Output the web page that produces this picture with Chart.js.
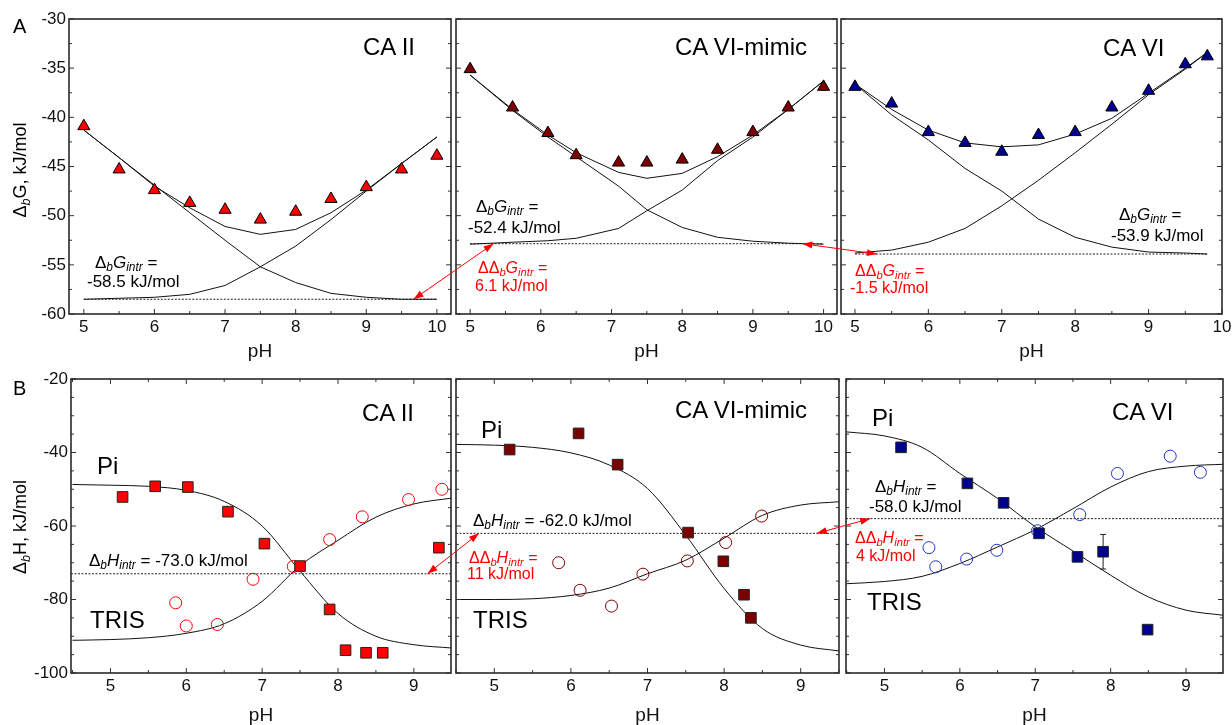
<!DOCTYPE html>
<html>
<head>
<meta charset="utf-8">
<script src="https://cdn.jsdelivr.net/npm/chart.js@4.4.0/dist/chart.umd.min.js"></script>
<style>
    body { margin: 0; background: #fff; }
    #page { position: relative; width: 1232px; height: 725px; overflow: hidden; background: #fff; }
    canvas { position: absolute; }
    .t { position: absolute; font-family: "Liberation Sans", Arial, sans-serif; line-height: 1; white-space: nowrap; color: #000; z-index: 5; }
    .t sub { font-size: 0.7em; font-style: italic; vertical-align: -0.28em; line-height: 0; }
    .red { color: #f00; }
    .rot { transform: translate(-50%, -50%) rotate(-90deg); }
</style>
</head>
<body>
<div id="page">
    <canvas id="a1"></canvas>
    <canvas id="a2"></canvas>
    <canvas id="a3"></canvas>
    <canvas id="b1"></canvas>
    <canvas id="b2"></canvas>
    <canvas id="b3"></canvas>
    <canvas id="ov" width="1232" height="725" style="left:0;top:0;z-index:4"></canvas>

    <div class="t" style="left:13px;top:16px;font-size:20px">A</div>
    <div class="t" style="left:13px;top:378px;font-size:20px">B</div>
    <div class="t rot" style="left:20px;top:170px;font-size:18px">&Delta;<sub>b</sub>G, kJ/mol</div>
    <div class="t rot" style="left:20px;top:527px;font-size:18px">&Delta;<sub>b</sub>H, kJ/mol</div>

    <!-- panel A1 -->
    <div class="t" style="left:363px;top:35px;font-size:24px">CA II</div>
    <div class="t" style="left:95px;top:254px;font-size:17px">&Delta;<sub>b</sub><i>G</i><sub>intr</sub> =</div>
    <div class="t" style="left:87px;top:273px;font-size:17px">-58.5 kJ/mol</div>
    <!-- panel A2 -->
    <div class="t" style="left:675px;top:35px;font-size:24px">CA VI-mimic</div>
    <div class="t" style="left:476px;top:198px;font-size:17px">&Delta;<sub>b</sub><i>G</i><sub>intr</sub> =</div>
    <div class="t" style="left:468px;top:219px;font-size:17px">-52.4 kJ/mol</div>
    <div class="t red" style="left:478px;top:260px;font-size:16px">&Delta;&Delta;<sub>b</sub><i>G</i><sub>intr</sub> =</div>
    <div class="t red" style="left:475px;top:278px;font-size:16px">6.1 kJ/mol</div>
    <!-- panel A3 -->
    <div class="t" style="left:1103px;top:36px;font-size:24px">CA VI</div>
    <div class="t" style="left:1119px;top:206px;font-size:17px">&Delta;<sub>b</sub><i>G</i><sub>intr</sub> =</div>
    <div class="t" style="left:1111px;top:227px;font-size:17px">-53.9 kJ/mol</div>
    <div class="t red" style="left:855px;top:263px;font-size:16px">&Delta;&Delta;<sub>b</sub><i>G</i><sub>intr</sub> =</div>
    <div class="t red" style="left:850px;top:280px;font-size:16px">-1.5 kJ/mol</div>
    <!-- panel B1 -->
    <div class="t" style="left:362px;top:401px;font-size:24px">CA II</div>
    <div class="t" style="left:97px;top:454px;font-size:24px">Pi</div>
    <div class="t" style="left:90px;top:608px;font-size:24px">TRIS</div>
    <div class="t" style="left:89px;top:552px;font-size:17px">&Delta;<sub>b</sub><i>H</i><sub>intr</sub> = -73.0 kJ/mol</div>
    <!-- panel B2 -->
    <div class="t" style="left:675px;top:398px;font-size:24px">CA VI-mimic</div>
    <div class="t" style="left:481px;top:418px;font-size:24px">Pi</div>
    <div class="t" style="left:473px;top:608px;font-size:24px">TRIS</div>
    <div class="t" style="left:473px;top:512px;font-size:17px">&Delta;<sub>b</sub><i>H</i><sub>intr</sub> = -62.0 kJ/mol</div>
    <div class="t red" style="left:469px;top:550px;font-size:16px">&Delta;&Delta;<sub>b</sub><i>H</i><sub>intr</sub> =</div>
    <div class="t red" style="left:467px;top:566px;font-size:16px">11 kJ/mol</div>
    <!-- panel B3 -->
    <div class="t" style="left:1112px;top:400px;font-size:24px">CA VI</div>
    <div class="t" style="left:872px;top:406px;font-size:24px">Pi</div>
    <div class="t" style="left:867px;top:590px;font-size:24px">TRIS</div>
    <div class="t" style="left:875px;top:478px;font-size:17px">&Delta;<sub>b</sub><i>H</i><sub>intr</sub> =</div>
    <div class="t" style="left:869px;top:498px;font-size:17px">-58.0 kJ/mol</div>
    <div class="t red" style="left:855px;top:530px;font-size:16px">&Delta;&Delta;<sub>b</sub><i>H</i><sub>intr</sub> =</div>
    <div class="t red" style="left:856px;top:548px;font-size:16px">4 kJ/mol</div>
</div>

<script>
// ---- tick labels ----
const xTicksTop = [5, 6, 7, 8, 9, 10];
const xTicksBottom = [5, 6, 7, 8, 9];
const yTicksTop = [-60, -55, -50, -45, -40, -35, -30];
const yTicksBottom = [-100, -80, -60, -40, -20];

// ---- A: binding free energy, CA II ----
const caIIpH = [5, 5.5, 6, 6.5, 7, 7.5, 8, 8.5, 9, 9.5, 10];
const caIIdG = [-40.9, -45.3, -47.4, -48.7, -49.4, -50.4, -49.6, -48.3, -47.1, -45.3, -43.9];
const caIIfit = [-41.3, -44.1, -47.0, -49.2, -51.1, -51.9, -51.4, -49.7, -47.4, -44.7, -42.0];
const caIIdown = [-41.3, -44.1, -46.9, -49.7, -52.5, -55.2, -56.8, -57.9, -58.3, -58.5, -58.5];
const caIIup = [-58.5, -58.4, -58.3, -58.0, -57.1, -55.2, -53.1, -50.4, -47.5, -44.7, -42.0];
const caIIintr = -58.5;

// ---- A: CA VI-mimic ----
const mimicpH = [5, 5.6, 6.1, 6.5, 7.1, 7.5, 8.0, 8.5, 9.0, 9.5, 10];
const mimicdG = [-35.1, -39.0, -41.6, -43.85, -44.6, -44.6, -44.3, -43.3, -41.5, -39.0, -36.9];
const mimicfit = [-35.7, -39.2, -41.8, -43.6, -45.6, -46.2, -45.7, -44.0, -41.8, -39.2, -36.3];
const mimicdown = [-35.7, -39.3, -42.0, -44.0, -47.0, -49.4, -51.2, -52.2, -52.6, -52.8, -52.9];
const mimicup = [-52.9, -52.7, -52.55, -52.3, -51.3, -49.5, -47.4, -44.4, -42.0, -39.2, -36.3];
const mimicintr = -52.85;

// ---- A: CA VI ----
const caVIpH = [5, 5.5, 6, 6.5, 7, 7.5, 8, 8.5, 9, 9.5, 9.8];
const caVIdG = [-36.9, -38.6, -41.5, -42.6, -43.5, -41.8, -41.5, -39.0, -37.3, -34.6, -33.8];
const caVIfit = [-36.6, -39.2, -41.3, -42.6, -43.0, -42.8, -41.7, -40.1, -37.55, -35.0, -33.4];
const caVIdown = [-36.6, -39.75, -42.3, -45.2, -47.5, -50.35, -52.2, -53.2, -53.7, -53.8, -53.9];
const caVIup = [-53.8, -53.5, -52.7, -51.3, -49.0, -46.4, -43.6, -40.7, -37.7, -35.1, -33.4];
const caVIintr = -53.9;

// ---- B: binding enthalpy ----
const fitPH = [4.5, 5, 5.5, 6, 6.5, 7, 7.5, 8, 8.5, 9, 9.5];

const piIIpH = [5.16, 5.59, 6.02, 6.55, 7.03, 7.5, 7.89, 8.10, 8.37, 8.59, 9.33];
const piIIdH = [-52.1, -49.2, -49.4, -56.1, -64.8, -70.9, -82.7, -93.8, -94.5, -94.5, -65.9];
const trisIIpH = [5.86, 6.0, 6.41, 6.88, 7.41, 7.89, 8.32, 8.93, 9.37];
const trisIIdH = [-80.9, -87.2, -86.8, -74.5, -71.0, -63.7, -57.5, -52.8, -50.0];
const piIIfit = [-48.7, -48.9, -49.2, -50.3, -53.3, -60.0, -72.3, -83.8, -90.0, -92.3, -93.2];
const trisIIfit = [-91.1, -90.9, -90.4, -89.2, -86.6, -80.5, -70.8, -63.9, -57.6, -54.0, -52.4];
const hIIintr = -73.0;

const piMpH = [5.2, 6.1, 6.61, 7.53, 7.99, 8.26, 8.35];
const piMdH = [-39.2, -34.8, -43.3, -61.8, -69.6, -78.7, -85.0];
const trisMpH = [5.84, 6.12, 6.53, 6.94, 7.52, 8.02, 8.49];
const trisMdH = [-70.0, -77.5, -81.8, -73.1, -69.5, -64.5, -57.3];
const piMfit = [-37.8, -38.0, -38.6, -40.1, -43.4, -49.8, -62.5, -77.0, -87.9, -92.4, -94.0];
const trisMfit = [-80.0, -80.0, -79.8, -78.9, -76.9, -73.0, -69.3, -63.3, -57.1, -54.3, -53.4];
const hMintr = -62.0;

const piVIpH = [5.22, 6.1, 6.58, 7.05, 7.56, 7.9, 8.49];
const piVIdH = [-38.6, -48.4, -53.7, -62.0, -68.4, -67.0, -88.2];
const piVIerr = [0, 0, 0, 0, 0, 4.7, 0];
const trisVIpH = [5.59, 5.68, 6.09, 6.49, 7.03, 7.59, 8.09, 8.79, 9.19];
const trisVIdH = [-65.9, -71.1, -69.0, -66.6, -61.3, -56.9, -45.7, -41.0, -45.4];
const piVIfit = [-34.4, -35.5, -38.6, -45.7, -52.5, -60.2, -66.8, -73.4, -79.3, -82.9, -84.3];
const trisVIfit = [-75.7, -75.1, -73.7, -70.2, -65.7, -61.0, -55.3, -49.4, -45.2, -43.7, -43.2];
const hVIintr = -58.0;

const family = '"Liberation Sans", Arial, sans-serif';

function pts(xs, ys) {
    return xs.map((v, i) => ({ x: v, y: ys[i] }));
}

function marks(xs, ys, style, fill, stroke, r) {
    return {
        data: pts(xs, ys), showLine: false, pointStyle: style, pointRadius: r,
        pointBackgroundColor: fill, pointBorderColor: stroke, pointBorderWidth: 1
    };
}

function curve(xs, ys, smooth) {
    return {
        data: pts(xs, ys), borderColor: '#111', borderWidth: 1, pointRadius: 0, fill: false,
        tension: 0, cubicInterpolationMode: smooth ? 'monotone' : 'default'
    };
}

function dashed(xs, yv) {
    return {
        data: xs.map(v => ({ x: v, y: yv })), borderColor: '#222', borderWidth: 1,
        borderDash: [2, 1.5], pointRadius: 0, fill: false
    };
}

// frame with inward ticks, plus error bars
function frame(o) {
    return {
        id: 'frame',
        beforeDatasetsDraw(chart) {
            const { ctx, scales: { x, y } } = chart;
            const ds = o.err;
            if (!ds) return;
            ctx.save();
            ctx.strokeStyle = '#222';
            ctx.lineWidth = 1;
            ds.xs.forEach((xv, i) => {
                if (!ds.e[i]) return;
                const px = x.getPixelForValue(xv);
                const p1 = y.getPixelForValue(ds.ys[i] - ds.e[i]);
                const p2 = y.getPixelForValue(ds.ys[i] + ds.e[i]);
                ctx.beginPath();
                ctx.moveTo(px, p1); ctx.lineTo(px, p2);
                ctx.moveTo(px - 3, p1); ctx.lineTo(px + 3, p1);
                ctx.moveTo(px - 3, p2); ctx.lineTo(px + 3, p2);
                ctx.stroke();
            });
            ctx.restore();
        },
        afterDraw(chart) {
            const { ctx, chartArea: a, scales: { x, y } } = chart;
            ctx.save();
            ctx.strokeStyle = '#333';
            ctx.lineWidth = 1;
            ctx.beginPath();
            for (let v = Math.ceil(x.min * 2) / 2; v <= x.max + 1e-9; v += 0.5) {
                const px = x.getPixelForValue(v);
                const len = Math.abs(v - Math.round(v)) < 1e-6 ? 5 : 3;
                ctx.moveTo(px, a.bottom); ctx.lineTo(px, a.bottom - len);
                if (o.topTicks) { ctx.moveTo(px, a.top); ctx.lineTo(px, a.top + len); }
            }
            for (let v = y.min; v <= y.max + 1e-9; v += o.yMinor) {
                const py = y.getPixelForValue(v);
                const major = Math.abs(v / o.yMajor - Math.round(v / o.yMajor)) < 1e-6;
                const len = major ? 5 : 3;
                ctx.moveTo(a.left, py); ctx.lineTo(a.left + len, py);
                ctx.moveTo(a.right, py); ctx.lineTo(a.right - len, py);
            }
            ctx.stroke();
            ctx.strokeStyle = '#2a2a2a';
            ctx.lineWidth = 1.6;
            ctx.strokeRect(a.left, a.top, a.right - a.left, a.bottom - a.top);
            ctx.restore();
        }
    };
}

function makeChart(id, box, area, xRange, yRange, xTicks, yTicks, showY, datasets, o) {
    const cv = document.getElementById(id);
    cv.width = box.w;
    cv.height = box.h;
    cv.style.left = box.x + 'px';
    cv.style.top = box.y + 'px';
    cv.style.width = box.w + 'px';
    cv.style.height = box.h + 'px';
    const yw = area.l - box.x;
    const xh = box.y + box.h - area.b;
    const chart = new Chart(cv, {
        type: 'line',
        data: { datasets: datasets },
        options: {
            responsive: false,
            animation: false,
            events: [],
            layout: {
                autoPadding: false,
                padding: { left: 0, top: area.t - box.y, right: box.x + box.w - area.r, bottom: 0 }
            },
            plugins: { legend: { display: false }, tooltip: { enabled: false } },
            scales: {
                x: {
                    type: 'linear', min: xRange[0], max: xRange[1],
                    grid: { display: false, drawTicks: false }, border: { display: false },
                    afterBuildTicks: s => { s.ticks = xTicks.map(v => ({ value: v })); },
                    afterFit: s => {
                        s.height = xh;
                        s.paddingLeft = 0; s.paddingRight = 0; s.paddingTop = 0; s.paddingBottom = 0;
                    },
                    ticks: { padding: o.xPad, color: '#111', font: { family: family, size: 17 }, maxRotation: 0, autoSkip: false },
                    title: { display: true, text: 'pH', color: '#111', font: { family: family, size: 19, lineHeight: 1 }, padding: { top: 0, bottom: o.tPad } }
                },
                y: {
                    type: 'linear', min: yRange[0], max: yRange[1],
                    grid: { display: false, drawTicks: false }, border: { display: false },
                    afterBuildTicks: s => { s.ticks = yTicks.map(v => ({ value: v })); },
                    afterFit: s => {
                        s.width = yw;
                        s.paddingLeft = 0; s.paddingRight = 0; s.paddingTop = 0; s.paddingBottom = 0;
                    },
                    ticks: { display: showY, padding: 3, color: '#111', font: { family: family, size: 17 }, autoSkip: false }
                }
            }
        },
        plugins: [frame(o)]
    });
    chart.$box = box;
    return chart;
}

const red = '#ff0000', darkRed = '#7d0000', navy = '#000090', blueRing = '#2233cc';
const topO = { yMinor: 2.5, yMajor: 5, xPad: 3, tPad: 1, topTicks: false };
const botO = { yMinor: 5, yMajor: 20, xPad: 3, tPad: 0, topTicks: true };

const cA1 = makeChart('a1', { x: 0, y: 0, w: 455, h: 362 }, { l: 69, t: 19, r: 451, b: 314 },
    [4.79, 10.2], [-60, -30], xTicksTop, yTicksTop, true, [
        marks(caIIpH, caIIdG, 'triangle', red, '#000', 7),
        curve(caIIpH, caIIfit, false),
        curve(caIIpH, caIIdown, false),
        curve(caIIpH, caIIup, false),
        dashed([5, 10], caIIintr)
    ], topO);

const cA2 = makeChart('a2', { x: 454, y: 0, w: 388, h: 362 }, { l: 456, t: 19, r: 837, b: 314 },
    [4.8, 10.19], [-60, -30], xTicksTop, yTicksTop, false, [
        marks(mimicpH, mimicdG, 'triangle', darkRed, '#000', 7),
        curve(mimicpH, mimicfit, false),
        curve(mimicpH, mimicdown, false),
        curve(mimicpH, mimicup, false),
        dashed([5, 10], mimicintr)
    ], topO);

const cA3 = makeChart('a3', { x: 839, y: 0, w: 393, h: 362 }, { l: 841, t: 19, r: 1222, b: 314 },
    [4.81, 10.0], [-60, -30], xTicksTop, yTicksTop, false, [
        marks(caVIpH, caVIdG, 'triangle', navy, '#000', 7),
        curve(caVIpH, caVIfit, false),
        curve(caVIpH, caVIdown, false),
        curve(caVIpH, caVIup, false),
        dashed([5, 9.8], caVIintr)
    ], topO);

const cB1 = makeChart('b1', { x: 0, y: 362, w: 455, h: 363 }, { l: 71, t: 379, r: 451, b: 673 },
    [4.48, 9.49], [-100, -20], xTicksBottom, yTicksBottom, true, [
        marks(piIIpH, piIIdH, 'rect', red, '#222', 7.5),
        marks(trisIIpH, trisIIdH, 'circle', 'rgba(0,0,0,0)', red, 6),
        curve(fitPH, piIIfit, true),
        curve(fitPH, trisIIfit, true),
        dashed([4.48, 9.49], hIIintr)
    ], botO);

const cB2 = makeChart('b2', { x: 454, y: 362, w: 390, h: 363 }, { l: 456, t: 379, r: 839, b: 673 },
    [4.5, 9.5], [-100, -20], xTicksBottom, yTicksBottom, false, [
        marks(piMpH, piMdH, 'rect', darkRed, '#222', 7.5),
        marks(trisMpH, trisMdH, 'circle', 'rgba(0,0,0,0)', darkRed, 6),
        curve(fitPH, piMfit, true),
        curve(fitPH, trisMfit, true),
        dashed([4.5, 9.5], hMintr)
    ], botO);

const cB3 = makeChart('b3', { x: 843, y: 362, w: 389, h: 363 }, { l: 846, t: 379, r: 1223, b: 673 },
    [4.49, 9.49], [-100, -20], xTicksBottom, yTicksBottom, false, [
        marks(piVIpH, piVIdH, 'rect', navy, '#222', 7.5),
        marks(trisVIpH, trisVIdH, 'circle', 'rgba(0,0,0,0)', blueRing, 6),
        curve(fitPH, piVIfit, true),
        curve(fitPH, trisVIfit, true),
        dashed([4.49, 9.49], hVIintr)
    ], Object.assign({ err: { xs: piVIpH, ys: piVIdH, e: piVIerr } }, botO));

// red double arrows between the intrinsic levels (data units of each panel)
const arrows = [
    [cA1, 9.67, caIIintr, cA2, 5.33, mimicintr],
    [cA2, 9.70, mimicintr, cA3, 5.30, caVIintr],
    [cB1, 9.18, hIIintr, cB2, 4.80, hMintr],
    [cB2, 9.21, hMintr, cB3, 4.81, hVIintr]
];

function toPage(ch, x, y) {
    return [ch.$box.x + ch.scales.x.getPixelForValue(x), ch.$box.y + ch.scales.y.getPixelForValue(y)];
}

function head(ctx, tip, from) {
    const ang = Math.atan2(tip[1] - from[1], tip[0] - from[0]);
    const len = 10, half = 3.5;
    ctx.beginPath();
    ctx.moveTo(tip[0], tip[1]);
    ctx.lineTo(tip[0] - len * Math.cos(ang) + half * Math.sin(ang), tip[1] - len * Math.sin(ang) - half * Math.cos(ang));
    ctx.lineTo(tip[0] - len * Math.cos(ang) - half * Math.sin(ang), tip[1] - len * Math.sin(ang) + half * Math.cos(ang));
    ctx.closePath();
    ctx.fill();
}

const ov = document.getElementById('ov').getContext('2d');
ov.strokeStyle = '#ff0000';
ov.fillStyle = '#ff0000';
ov.lineWidth = 1;
arrows.forEach(a => {
    const p = toPage(a[0], a[1], a[2]);
    const q = toPage(a[3], a[4], a[5]);
    ov.beginPath();
    ov.moveTo(p[0], p[1]);
    ov.lineTo(q[0], q[1]);
    ov.stroke();
    head(ov, p, q);
    head(ov, q, p);
});
</script>
</body>
</html>
